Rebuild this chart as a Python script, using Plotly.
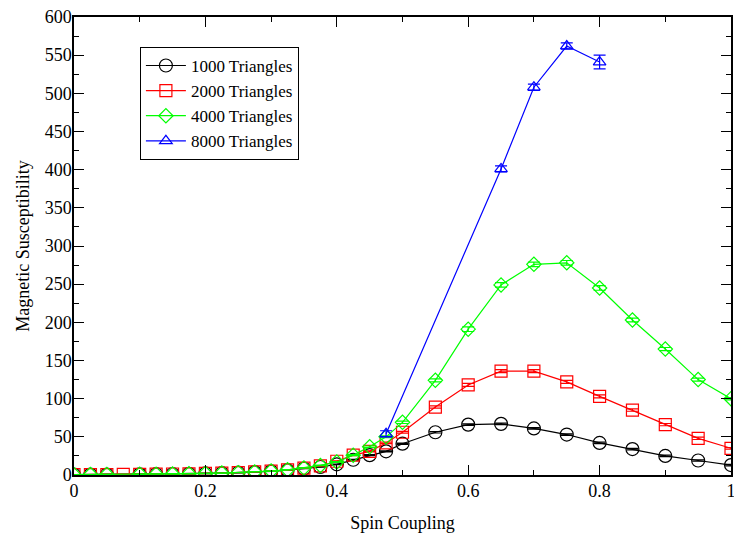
import plotly.graph_objects as go

# Spin coupling values
x_main = [0, 0.025, 0.05, 0.075, 0.1, 0.125, 0.15, 0.175, 0.2, 0.225, 0.25, 0.275,
          0.3, 0.325, 0.35, 0.375, 0.4, 0.425, 0.45, 0.475, 0.5,
          0.55, 0.6, 0.65, 0.7, 0.75, 0.8, 0.85, 0.9, 0.95, 1.0]

chi_1000 = [0.4, 0.5, 0.6, None, 0.9, 1.1, 1.3, 1.6, 2.0, 2.4, 3.0, 3.8,
            4.8, 6.3, 8.5, 10.5, 14, 20, 26, 31, 41,
            56, 66, 67, 61, 53, 42, 34, 25, 19, 13]
err_1000 = [0.1, 0.1, 0.1, None, 0.1, 0.1, 0.1, 0.1, 0.1, 0.1, 0.1, 0.1,
            0.2, 0.2, 0.3, 0.3, 0.4, 0.5, 0.6, 0.7, 0.8,
            1, 1, 1, 1, 1, 1, 1, 1, 1, 1]

chi_2000 = [0.4, 0.5, 0.6, 0.7, 0.9, 1.1, 1.3, 1.6, 2.0, 2.5, 3.1, 4.0,
            5.0, 6.6, 9, 12, 18, 26, 31, 42, 56,
            89, 118, 136, 136, 122, 103, 85, 66, 48, 35]
err_2000 = [0.1, 0.1, 0.1, 0.1, 0.1, 0.1, 0.1, 0.1, 0.1, 0.1, 0.1, 0.1,
            0.2, 0.2, 0.3, 0.4, 0.5, 0.6, 0.8, 1, 1.2,
            1.5, 2, 2, 2, 2, 2, 1.5, 1.5, 1.5, 1]

chi_4000 = [0.4, 0.5, 0.6, None, 0.9, 1.1, 1.3, 1.6, 2.0, 2.5, 3.1, 4.0,
            5.2, 6.8, 9.2, 12.5, 17, 26, 37, 50, 69,
            124, 191, 249, 276, 278, 245, 203, 165, 125, 100]
err_4000 = [0.1, 0.1, 0.1, None, 0.1, 0.1, 0.1, 0.1, 0.1, 0.1, 0.1, 0.1,
            0.2, 0.2, 0.3, 0.4, 0.5, 0.7, 1, 1.2, 1.5,
            2, 3, 3, 3, 3, 3, 2.5, 2, 2, 1.5]

x_8000 = [0.475, 0.65, 0.7, 0.75, 0.8]
chi_8000 = [54, 401, 508, 562, 541]
err_8000 = [4, 4, 4, 4, 9]

series_names = ["1000 Triangles", "2000 Triangles", "4000 Triangles", "8000 Triangles"]

FONT = "Liberation Serif, Times New Roman, serif"

fig = go.Figure()

specs = [
    (x_main, chi_1000, err_1000, "black", "circle-open", 13),
    (x_main, chi_2000, err_2000, "#ff0000", "square-open", 12),
    (x_main, chi_4000, err_4000, "#00ff00", "diamond-open", 11),
    (x_8000, chi_8000, err_8000, "#0000ff", "triangle-up-open", 11),
]

for name, (xs, ys, es, col, sym, sz) in zip(series_names, specs):
    fig.add_trace(go.Scatter(
        x=xs, y=ys, name=name, mode="lines+markers",
        connectgaps=True,
        line=dict(color=col, width=1.2),
        marker=dict(symbol=sym, size=sz, color=col, line=dict(color=col, width=1.2)),
        error_y=dict(type="data", array=es, visible=True, color=col,
                     thickness=1.2, width=6),
    ))

axis_common = dict(
    showline=True, linecolor="black", linewidth=1.5, mirror="ticks",
    ticks="inside", ticklen=10, tickwidth=1.2, tickcolor="black",
    showgrid=False, zeroline=False,
    tickfont=dict(family=FONT, size=18, color="black"),
    automargin=False, ticklabeloverflow="allow",
)

fig.update_xaxes(
    range=[0, 1], tickmode="array",
    tickvals=[0, 0.2, 0.4, 0.6, 0.8, 1.0],
    ticktext=["0", "0.2", "0.4", "0.6", "0.8", "1"],
    minor=dict(dtick=0.1, ticks="inside", ticklen=5, tickwidth=1.2, tickcolor="black"),
    title=dict(text="Spin Coupling", font=dict(family=FONT, size=18, color="black"), standoff=16),
    ticklabelstandoff=-1,
    **axis_common,
)
fig.update_yaxes(
    range=[0, 600], dtick=50, tick0=0,
    minor=dict(dtick=25, ticks="inside", ticklen=5, tickwidth=1.2, tickcolor="black"),
    title=dict(text="Magnetic Susceptibility", font=dict(family=FONT, size=18, color="black"), standoff=10),
    ticklabelstandoff=-3,
    **axis_common,
)

fig.update_layout(
    width=734, height=541,
    margin=dict(l=74, r=3, t=17, b=66),
    paper_bgcolor="white", plot_bgcolor="white",
    font=dict(family=FONT, size=18, color="black"),
    showlegend=True,
    legend=dict(
        x=0.1, y=0.935, xanchor="left", yanchor="top",
        bgcolor="white", bordercolor="black", borderwidth=1.2,
        font=dict(family=FONT, size=17, color="black"),
        tracegroupgap=0, itemwidth=40,
    ),
)

# remove the default page margin so the figure fills the window exactly
fig.write_html(
    "out.html",
    config={"displayModeBar": False},
    post_script="document.body.style.margin='0';document.body.style.overflow='hidden';",
)
